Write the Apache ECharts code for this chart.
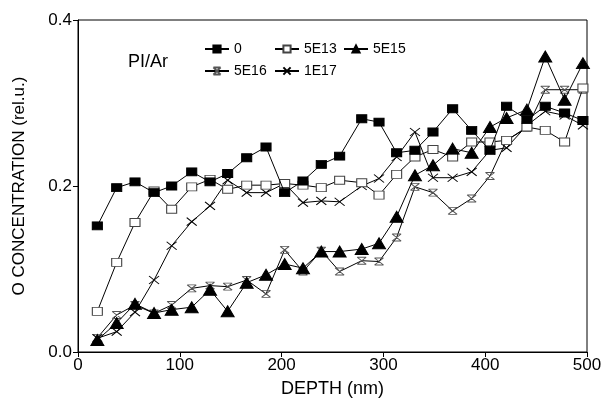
<!DOCTYPE html>
<html>
<head>
<meta charset="utf-8">
<script src="https://cdn.jsdelivr.net/npm/echarts@6/dist/echarts.min.js"></script>
<style>html,body{margin:0;padding:0;background:#fff;}#c{width:605px;height:403px;}</style>
</head>
<body>
<div id="c"></div>
<script>
var depth = [19, 38, 56, 74.7, 92, 111.7, 129.7, 147, 165.7, 184.7, 203, 221, 239, 257, 278.7, 295.7, 313, 331, 348.7, 368, 386.7, 404.7, 421, 441, 459, 478, 496];
var s0    = [0.152,0.198,0.205,0.192,0.200,0.217,0.205,0.215,0.234,0.247,0.192,0.206,0.226,0.236,0.281,0.277,0.240,0.243,0.265,0.293,0.267,0.243,0.296,0.280,0.296,0.288,0.279];
var s5E13 = [0.049,0.108,0.156,0.194,0.172,0.199,0.208,0.196,0.201,0.201,0.203,0.201,0.198,0.207,0.204,0.189,0.214,0.235,0.244,0.235,0.253,0.253,0.255,0.271,0.267,0.253,0.318];
var s5E15 = [0.0145,0.035,0.058,0.047,0.051,0.054,0.075,0.049,0.0835,0.093,0.106,0.101,0.121,0.121,0.124,0.131,0.163,0.213,0.225,0.245,0.240,0.271,0.282,0.292,0.356,0.304,0.348];
var s5E16 = [0.017,0.0446,0.0566,0.0466,0.0566,0.0767,0.080,0.0787,0.0867,0.070,0.123,0.097,0.122,0.097,0.110,0.109,0.138,0.199,0.192,0.170,0.185,0.212,0.255,0.270,0.316,0.316,0.316];
var s1E17 = [0.0165,0.0245,0.048,0.0867,0.128,0.157,0.176,0.207,0.192,0.192,0.203,0.180,0.182,0.181,0.200,0.209,0.235,0.265,0.210,0.210,0.217,0.243,0.246,0.273,0.290,0.285,0.273];
var seriesNames = ['0','5E13','5E15','5E16','1E17'];
var xTicks = [0,100,200,300,400,500];
var yTicks = [0.0,0.2,0.4];

function pairs(v){ return depth.map(function(d,i){ return [d, v[i]]; }); }

var FONT = 'Liberation Sans, Arial, sans-serif';
var hourglass = 'path://M0,0 L10,0 M0,10 L10,10 M0,0 L10,10 M10,0 L0,10';
var cross = 'path://M0,0 L10,10 M10,0 L0,10';

function mk(name, data, symbol, size, fill, border, z){
  return {
    name: name, type: 'line', data: pairs(data), symbol: symbol, symbolSize: size,
    showSymbol: true, z: z,
    lineStyle: {color: '#000', width: 1},
    itemStyle: {color: fill, borderColor: border, borderWidth: 1},
    emphasis: {disabled: true}, animation: false
  };
}

var chart = echarts.init(document.getElementById('c'));
var legendBase = {orient:'horizontal', itemWidth: 24, itemHeight: 9, itemGap: 6,
  textStyle:{fontFamily: FONT, fontSize: 14, color:'#000'}, selectedMode:false};
function lg(name, left, top){
  return Object.assign({}, legendBase, {data:[name], left:left, top:top});
}
chart.setOption({
  animation: false,
  backgroundColor: '#fff',
  grid: {left: 78, right: 18, top: 20, bottom: 51, show: true, borderColor: '#000', borderWidth: 1},
  title: {text: 'PI/Ar', left: 123, top: 48, textStyle: {fontFamily: FONT, fontSize: 18, fontWeight: 'normal', color: '#000'}},
  legend: [lg('0', 199, 37), lg('5E13', 269, 37), lg('5E15', 338, 37), lg('5E16', 199, 59), lg('1E17', 269, 59)],
  xAxis: {
    type: 'value', min: 0, max: 500, interval: 100,
    name: 'DEPTH (nm)', nameLocation: 'middle', nameGap: 28,
    nameTextStyle: {fontFamily: FONT, fontSize: 18, color: '#000'},
    axisLine: {lineStyle: {color: '#000', width: 1}},
    axisTick: {show: true, inside: false, length: 5, lineStyle: {color: '#000'}},
    axisLabel: {fontFamily: FONT, fontSize: 17, color: '#000', margin: 5,
      formatter: function(v){ return xTicks.indexOf(v) >= 0 ? String(v) : ''; }},
    splitLine: {show: false}
  },
  yAxis: {
    type: 'value', min: 0, max: 0.4, interval: 0.2,
    name: 'O CONCENTRATION (rel.u.)', nameLocation: 'middle', nameGap: 50, nameRotate: 90,
    nameTextStyle: {fontFamily: FONT, fontSize: 17, color: '#000'},
    axisLine: {show: true, lineStyle: {color: '#000', width: 1}},
    axisTick: {show: true, inside: false, length: 5, lineStyle: {color: '#000'}},
    axisLabel: {fontFamily: FONT, fontSize: 17, color: '#000', margin: 6,
      formatter: function(v){ return v.toFixed(1); }},
    splitLine: {show: false}
  },
  series: [
    mk(seriesNames[0], s0, 'rect', [10,8], '#000', '#000', 5),
    mk(seriesNames[1], s5E13, 'rect', [10,8], '#fff', '#444', 4),
    mk(seriesNames[2], s5E15, 'triangle', [13,11], '#000', '#000', 6),
    mk(seriesNames[3], s5E16, hourglass, [9,7], 'rgba(0,0,0,0)', '#555', 3),
    mk(seriesNames[4], s1E17, cross, [10,8], 'rgba(0,0,0,0)', '#000', 3)
  ]
});
</script>
</body>
</html>
